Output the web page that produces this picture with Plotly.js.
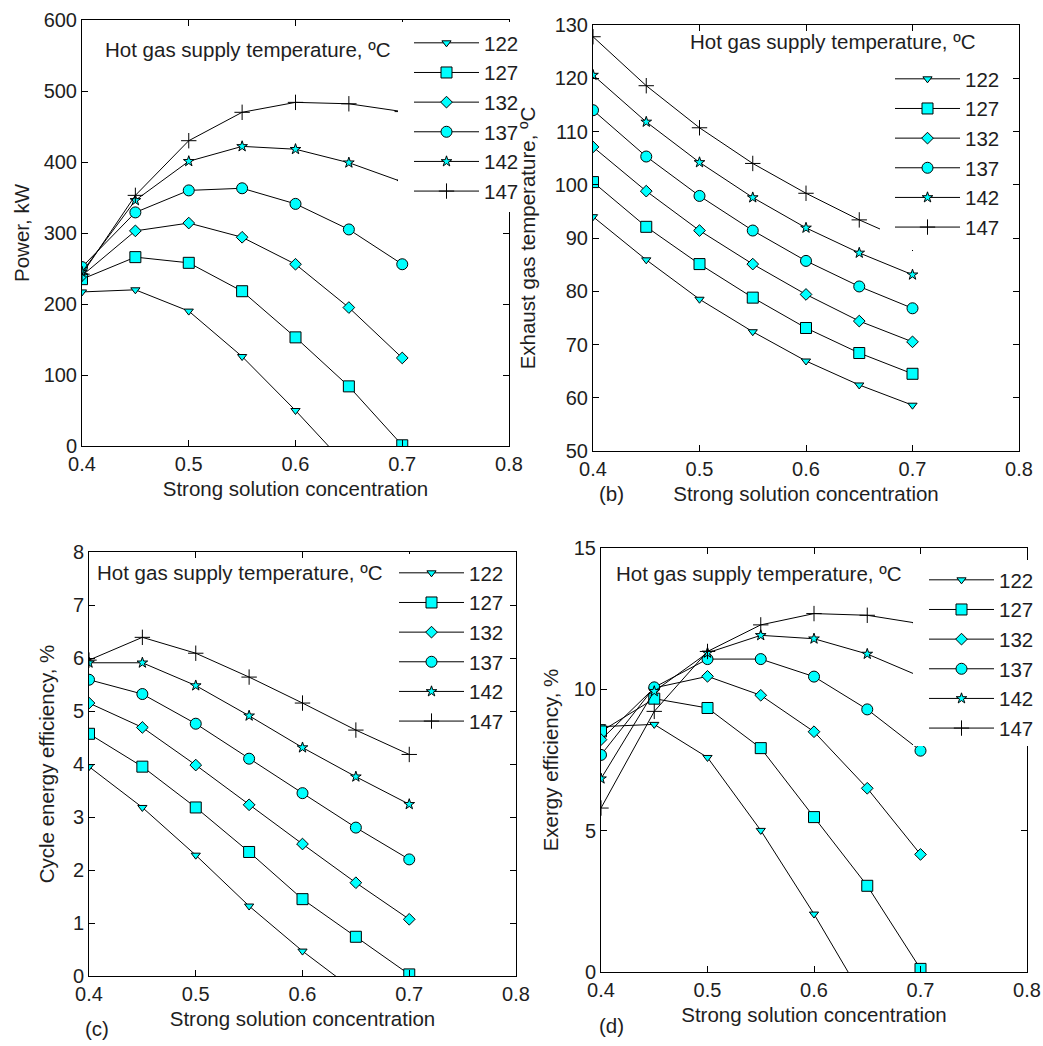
<!DOCTYPE html>
<html><head><meta charset="utf-8">
<script src="https://cdn.plot.ly/plotly-3.0.1.min.js"></script>
<style>html,body{margin:0;padding:0;background:#fff}#chart{width:1043px;height:1046px}</style>
</head><body><div id="chart"></div>
<script>
// ---- data ----
const concentration = [0.4, 0.45, 0.5, 0.55, 0.6, 0.65, 0.7];
const supplyTemps = ['122', '127', '132', '137', '142', '147'];
const xTickVals = [0.4, 0.5, 0.6, 0.7, 0.8];
const xTickText = ['0.4', '0.5', '0.6', '0.7', '0.8'];
const powerTicks = [0, 100, 200, 300, 400, 500, 600];
const exhaustTicks = [50, 60, 70, 80, 90, 100, 110, 120, 130];
const energyTicks = [0, 1, 2, 3, 4, 5, 6, 7, 8];
const exergyTicks = [0, 5, 10, 15];

// Power, kW (a)
const power = [
  [217, 220, 190, 126, 50, -31],
  [235, 266, 258, 218, 153, 84, 1],
  [240, 303, 314, 294, 256, 195, 124],
  [252, 329, 360, 363, 341, 305, 256],
  [245, 346, 401, 422, 418, 399, 372],
  [242, 353, 430, 470, 484, 482, 471]
];
// Exhaust gas temperature, ºC (b)
const exhaustTemp = [
  [94.0, 85.9, 78.5, 72.4, 66.9, 62.4, 58.6],
  [100.5, 92.1, 85.1, 78.8, 73.1, 68.4, 64.5],
  [107.1, 98.8, 91.4, 85.1, 79.4, 74.4, 70.5],
  [114.0, 105.3, 97.9, 91.4, 85.7, 80.9, 76.8],
  [120.6, 111.8, 104.2, 97.6, 91.9, 87.2, 83.1],
  [127.8, 118.6, 110.7, 104.0, 98.4, 93.4, 89.0]
];
// Cycle energy efficiency, % (c)
const energyEff = [
  [3.95, 3.18, 2.28, 1.32, 0.47, -0.29],
  [4.57, 3.95, 3.18, 2.34, 1.45, 0.74, 0.03],
  [5.15, 4.69, 3.98, 3.23, 2.49, 1.76, 1.07],
  [5.59, 5.32, 4.76, 4.10, 3.45, 2.80, 2.20],
  [5.91, 5.91, 5.48, 4.91, 4.31, 3.76, 3.24],
  [5.96, 6.39, 6.09, 5.64, 5.15, 4.64, 4.18]
];
// Exergy efficiency, % (d)
const exergyEff = [
  [8.68, 8.76, 7.59, 5.01, 2.05, -1.15],
  [8.51, 9.67, 9.34, 7.92, 5.48, 3.05, 0.11],
  [8.22, 10.05, 10.46, 9.79, 8.50, 6.50, 4.16],
  [7.68, 10.07, 11.07, 11.07, 10.45, 9.29, 7.83],
  [6.84, 9.93, 11.29, 11.91, 11.79, 11.25, 10.45],
  [5.80, 9.22, 11.34, 12.28, 12.68, 12.62, 12.32]
];

// ---- styling ----
const W = 1043, H = 1046;
const FONT = 'Liberation Sans, Arial, sans-serif';
const TXT = '#1e1e1e';
const FS = 20.5;
const symbols = ['triangle-down', 'square', 'diamond', 'circle', 'star', 'cross-thin'];
const sizes = [8, 11, 9, 11, 8, 11];

const panels = [
  {data: power, xa: 'x', ya: 'y', lg: 'legend'},
  {data: exhaustTemp, xa: 'x2', ya: 'y2', lg: 'legend2'},
  {data: energyEff, xa: 'x3', ya: 'y3', lg: 'legend3'},
  {data: exergyEff, xa: 'x4', ya: 'y4', lg: 'legend4'}
];

const traces = [];
panels.forEach(p => {
  p.data.forEach((vals, i) => {
    const isPlus = symbols[i] === 'cross-thin';
    traces.push({
      type: 'scatter', mode: 'lines+markers',
      x: concentration.slice(0, vals.length), y: vals,
      name: supplyTemps[i], xaxis: p.xa, yaxis: p.ya, legend: p.lg,
      line: {color: '#000', width: 1},
      marker: {symbol: symbols[i], size: sizes[i], color: isPlus ? '#000' : '#00ffff',
               line: {color: '#000', width: 1}},
      cliponaxis: true
    });
  });
});

function xd(a, b) { return [a / W, b / W]; }
function yd(top, bottom) { return [1 - bottom / H, 1 - top / H]; }

function xAxis(dom, anchor) {
  return {domain: dom, anchor: anchor, range: [0.4, 0.8], tickvals: xTickVals, ticktext: xTickText,
    showline: true, linecolor: '#000', linewidth: 1, mirror: 'ticks', ticks: 'inside', ticklen: 6,
    tickcolor: '#000', showgrid: false, zeroline: false, tickfont: {size: 20, color: TXT, family: FONT},
    title: {text: 'Strong solution concentration', font: {size: FS, color: TXT, family: FONT}, standoff: 7}};
}
function yAxis(dom, anchor, range, ticks, title, standoff) {
  return {domain: dom, anchor: anchor, range: range, tickvals: ticks, ticktext: ticks.map(String),
    showline: true, linecolor: '#000', linewidth: 1, mirror: 'ticks', ticks: 'inside', ticklen: 6,
    tickcolor: '#000', showgrid: false, zeroline: false, tickfont: {size: 20, color: TXT, family: FONT},
    title: {text: title, font: {size: FS, color: TXT, family: FONT}, standoff: standoff}};
}
function legendAt(xpx, ypx) {
  return {x: xpx / W, y: 1 - ypx / H, xanchor: 'left', yanchor: 'top', bgcolor: 'rgba(0,0,0,0)', borderwidth: 0,
    font: {size: FS, color: TXT, family: FONT}, itemwidth: 65, tracegroupgap: 0};
}
function note(text, xpx, ypx) {
  return {text: text, x: xpx / W, y: 1 - ypx / H, xref: 'paper', yref: 'paper', xanchor: 'left',
    yanchor: 'middle', showarrow: false, font: {size: FS, color: TXT, family: FONT}};
}
// white boxes behind each legend (hide the curves there, as in the reference)
function box(x0, y0, x1, y1) {
  return {type: 'rect', xref: 'paper', yref: 'paper', x0: x0 / W, x1: x1 / W, y0: 1 - y1 / H, y1: 1 - y0 / H,
    fillcolor: '#fff', line: {width: 0}, layer: 'above'};
}

const layout = {
  width: W, height: H, margin: {l: 0, r: 0, t: 0, b: 0}, paper_bgcolor: '#fff', plot_bgcolor: '#fff',
  font: {family: FONT, color: TXT},
  xaxis: xAxis(xd(82, 509), 'y'),
  yaxis: yAxis(yd(20, 446), 'x', [0, 600], powerTicks, 'Power, kW', 8),
  xaxis2: xAxis(xd(593, 1019), 'y2'),
  yaxis2: yAxis(yd(25, 451), 'x2', [50, 130], exhaustTicks, 'Exhaust gas temperature, ºC', 13),
  xaxis3: xAxis(xd(89, 516), 'y3'),
  yaxis3: yAxis(yd(552, 976), 'x3', [0, 8], energyTicks, 'Cycle energy efficiency, %', 12),
  xaxis4: xAxis(xd(601, 1027), 'y4'),
  yaxis4: yAxis(yd(548, 972), 'x4', [0, 15], exergyTicks, 'Exergy efficiency, %', 9),
  legend: legendAt(409, 23),
  legend2: legendAt(890, 59),
  legend3: legendAt(394, 553),
  legend4: legendAt(924, 560),
  shapes: [
    box(398, 22, 522, 212),
    box(880, 58, 1008, 250),
    box(386, 554, 506, 736),
    box(913, 560, 1036, 746)
  ],
  annotations: [
    note('Hot gas supply temperature, ºC', 103, 49),
    note('Hot gas supply temperature, ºC', 688, 42),
    note('Hot gas supply temperature, ºC', 95, 572),
    note('Hot gas supply temperature, ºC', 614, 573),
    note('(b)', 597, 493),
    note('(c)', 83, 1028),
    note('(d)', 597, 1025)
  ]
};

Plotly.newPlot('chart', traces, layout, {displayModeBar: false, staticPlot: true});
</script>
</body></html>
